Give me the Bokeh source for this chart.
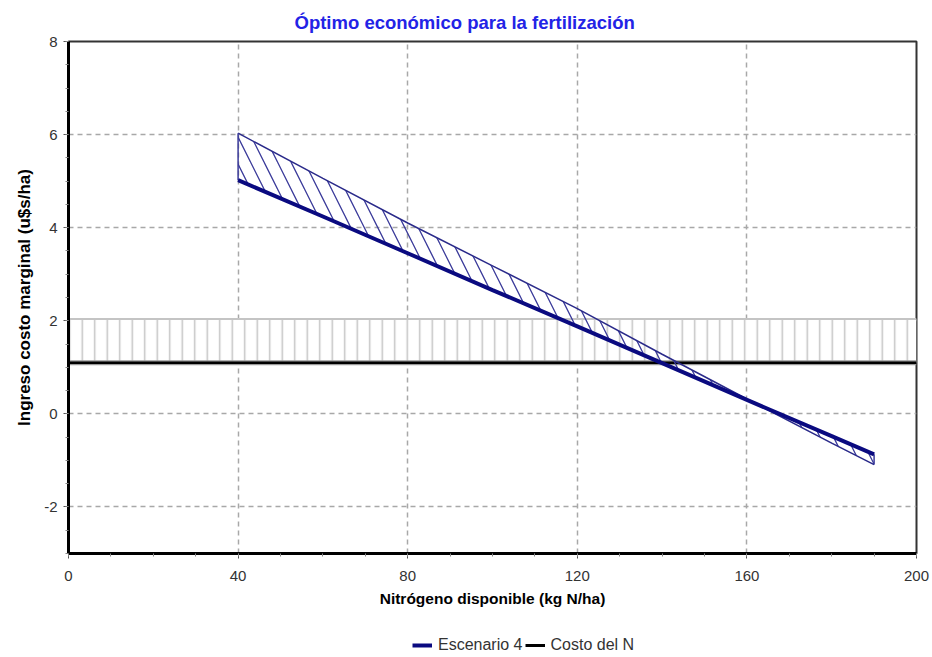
from bokeh.plotting import figure
from bokeh.layouts import column
from bokeh.models import (ColumnDataSource, Legend, LegendItem, Range1d,
                          FixedTicker, Title)
from bokeh.embed import file_html
from bokeh.resources import INLINE

# Nitrogen rates (kg N/ha) where the curves are sampled
n_rate = [40, 60, 80, 100, 120, 140, 160, 180, 190]
# Marginal income, scenario 4 (u$s/ha)
escenario_4 = [5.02, 4.24, 3.45, 2.66, 1.88, 1.09, 0.30, -0.48, -0.87]
# Upper bound of the marginal-income band
escenario_4_sup = [6.03, 5.06, 4.10, 3.18, 2.26, 1.28, 0.32, -0.63, -1.09]

# Cost of N: line value and upper limit of its range
costo_x = [0, 200]
costo_n = [1.1, 1.1]
costo_n_sup = [2.04, 2.04]

x_ticks = [0, 40, 80, 120, 160, 200]
y_ticks = [-2, 0, 2, 4, 6, 8]
y_tick_labels = {-2: "-2", 0: "0", 2: "2", 4: "4", 6: "6", 8: "8"}

NAVY = "#0a0a80"
GRID = "#a8a8a8"
SANS = "Liberation Sans"

p = figure(frame_width=848, frame_height=512, output_backend="svg",
           toolbar_location=None,
           x_range=Range1d(0, 200), y_range=Range1d(-3, 8),
           min_border_left=68, min_border_right=16, min_border_top=41,
           min_border_bottom=64, background_fill_color="white",
           border_fill_color="white")

p.add_layout(Title(text="Óptimo económico para la fertilización",
                   text_color="#2323e6", text_font=SANS,
                   text_font_size="18.5px", text_font_style="bold",
                   align="left", offset=226, standoff=18), "above")

# axes
for ax in (p.xaxis[0], p.yaxis[0]):
    ax.axis_line_color = "black"
    ax.axis_line_width = 3
    ax.major_tick_line_color = "#555555"
    ax.minor_tick_line_color = "#888888"
    ax.major_tick_in = 0
    ax.major_tick_out = 5
    ax.minor_tick_in = 0
    ax.minor_tick_out = 3
    ax.major_label_text_font = SANS
    ax.major_label_text_font_size = "15px"
    ax.major_label_text_color = "#333333"
    ax.axis_label_text_font = SANS
    ax.axis_label_text_font_style = "bold"
    ax.axis_label_text_color = "black"
p.xaxis.axis_label_text_font_size = "15.5px"
p.yaxis.axis_label_text_font_size = "17px"

p.xaxis.ticker = FixedTicker(ticks=x_ticks, minor_ticks=list(range(0, 201, 10)))
p.yaxis.ticker = FixedTicker(ticks=y_ticks,
                             minor_ticks=[v / 2 for v in range(-6, 17)])
p.yaxis.major_label_overrides = y_tick_labels
p.xaxis.axis_label = "Nitrógeno disponible (kg N/ha)"
p.yaxis.axis_label = "Ingreso costo marginal (u$s/ha)"
p.xaxis.major_label_standoff = 12
p.xaxis.axis_label_standoff = 6
p.yaxis.major_label_standoff = 6
p.yaxis.axis_label_standoff = 7

# grid
for g in (p.xgrid[0], p.ygrid[0]):
    g.grid_line_color = GRID
    g.grid_line_dash = "5 4"
    g.grid_line_width = 1.5
p.xgrid.ticker = FixedTicker(ticks=x_ticks)
p.ygrid.ticker = FixedTicker(ticks=y_ticks)

p.outline_line_color = "#333333"
p.outline_line_width = 2

# cost-of-N band (vertical hatching)
band = ColumnDataSource(dict(x=costo_x, y1=costo_n, y2=costo_n_sup))
p.varea(x="x", y1="y1", y2="y2", source=band, fill_color="white",
        hatch_pattern="|", hatch_color="#c4c4c4", hatch_weight=1.5,
        hatch_scale=12.5)
p.line(costo_x, costo_n_sup, line_color="#c4c4c4", line_width=2)
p.line(costo_x, costo_n, line_color="#9a9a9a", line_width=5)
p.line(costo_x, costo_n, line_color="black", line_width=2.5)

# scenario 4 marginal-income band (diagonal hatching)
src = ColumnDataSource(dict(x=n_rate, lo=escenario_4, hi=escenario_4_sup))
p.varea(x="x", y1="lo", y2="hi", source=src, fill_alpha=0,
        hatch_pattern="\\", hatch_color="#3a3a9a", hatch_weight=1.3,
        hatch_scale=27)
p.line("x", "hi", source=src, line_color="#2a2a8a", line_width=1.5)
p.segment(x0=[n_rate[0]], y0=[escenario_4[0]], x1=[n_rate[0]],
          y1=[escenario_4_sup[0]], line_color="#3a3a9a", line_width=1.5)
p.segment(x0=[n_rate[-1]], y0=[escenario_4[-1]], x1=[n_rate[-1]],
          y1=[escenario_4_sup[-1]], line_color="#3a3a9a", line_width=1.5)
p.line("x", "lo", source=src, line_color=NAVY, line_width=4)

# legend strip under the chart; its lines reuse the series data but lie
# outside the strip's ranges, so only the legend swatches show
leg = figure(width=932, height=40, output_backend="svg", toolbar_location=None,
             x_range=Range1d(0, 1), y_range=Range1d(0, 1),
             x_axis_type=None, y_axis_type=None, min_border=0,
             outline_line_color=None, background_fill_color="white",
             border_fill_color="white")
leg.xgrid.visible = False
leg.ygrid.visible = False
r_esc = leg.line("x", "lo", source=src, line_color=NAVY, line_width=4)
r_costo = leg.line(costo_x, costo_n, line_color="black", line_width=3)

legend = Legend(items=[LegendItem(label="Escenario 4", renderers=[r_esc]),
                       LegendItem(label="Costo del N", renderers=[r_costo])],
                orientation="horizontal", location=(344, 3),
                label_text_font=SANS, label_text_font_size="16px",
                label_text_color="#333333", glyph_width=20, glyph_height=10,
                spacing=2, padding=2, margin=0, border_line_color=None,
                background_fill_alpha=0, label_standoff=6)
leg.add_layout(legend)

layout = column(p, leg, spacing=0)
open("out.html", "w").write(file_html(layout, INLINE))
